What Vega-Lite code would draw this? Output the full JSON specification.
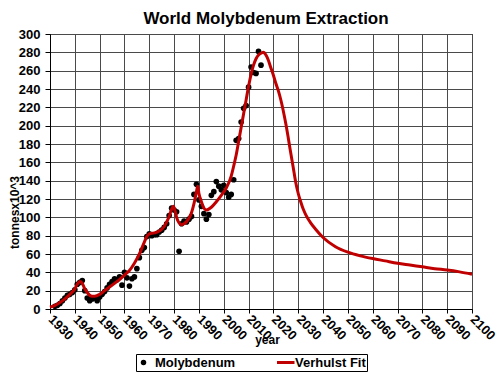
{
  "$schema": "https://vega.github.io/schema/vega-lite/v6.json",
  "autosize": {"type": "fit", "contains": "padding"},
  "width": 500,
  "height": 377,
  "padding": {"left": 8, "top": 10, "right": 3, "bottom": 32},
  "background": "white",
  "title": {"text": "World Molybdenum Extraction", "font": "Liberation Sans", "fontSize": 17, "fontWeight": "bold", "color": "black", "frame": "group", "offset": 0, "dx": 5},
  "datasets": {
    "obs": [
      {"year": 1932, "value": 3, "series": "Molybdenum"},
      {"year": 1933, "value": 4, "series": "Molybdenum"},
      {"year": 1934, "value": 6, "series": "Molybdenum"},
      {"year": 1935, "value": 9, "series": "Molybdenum"},
      {"year": 1936, "value": 12, "series": "Molybdenum"},
      {"year": 1937, "value": 15, "series": "Molybdenum"},
      {"year": 1938, "value": 16, "series": "Molybdenum"},
      {"year": 1939, "value": 18, "series": "Molybdenum"},
      {"year": 1940, "value": 21, "series": "Molybdenum"},
      {"year": 1941, "value": 27, "series": "Molybdenum"},
      {"year": 1942, "value": 29, "series": "Molybdenum"},
      {"year": 1943, "value": 31, "series": "Molybdenum"},
      {"year": 1944, "value": 20, "series": "Molybdenum"},
      {"year": 1945, "value": 12, "series": "Molybdenum"},
      {"year": 1946, "value": 9, "series": "Molybdenum"},
      {"year": 1947, "value": 11, "series": "Molybdenum"},
      {"year": 1948, "value": 12, "series": "Molybdenum"},
      {"year": 1949, "value": 9, "series": "Molybdenum"},
      {"year": 1950, "value": 13, "series": "Molybdenum"},
      {"year": 1951, "value": 16, "series": "Molybdenum"},
      {"year": 1952, "value": 19, "series": "Molybdenum"},
      {"year": 1953, "value": 23, "series": "Molybdenum"},
      {"year": 1954, "value": 27, "series": "Molybdenum"},
      {"year": 1955, "value": 30, "series": "Molybdenum"},
      {"year": 1956, "value": 33, "series": "Molybdenum"},
      {"year": 1957, "value": 32, "series": "Molybdenum"},
      {"year": 1958, "value": 35, "series": "Molybdenum"},
      {"year": 1959, "value": 26, "series": "Molybdenum"},
      {"year": 1960, "value": 40, "series": "Molybdenum"},
      {"year": 1961, "value": 34, "series": "Molybdenum"},
      {"year": 1962, "value": 25, "series": "Molybdenum"},
      {"year": 1963, "value": 33, "series": "Molybdenum"},
      {"year": 1964, "value": 35, "series": "Molybdenum"},
      {"year": 1965, "value": 44, "series": "Molybdenum"},
      {"year": 1966, "value": 56, "series": "Molybdenum"},
      {"year": 1967, "value": 64, "series": "Molybdenum"},
      {"year": 1968, "value": 67, "series": "Molybdenum"},
      {"year": 1969, "value": 79, "series": "Molybdenum"},
      {"year": 1970, "value": 82, "series": "Molybdenum"},
      {"year": 1971, "value": 80, "series": "Molybdenum"},
      {"year": 1972, "value": 81, "series": "Molybdenum"},
      {"year": 1973, "value": 81, "series": "Molybdenum"},
      {"year": 1974, "value": 84, "series": "Molybdenum"},
      {"year": 1975, "value": 86, "series": "Molybdenum"},
      {"year": 1976, "value": 89, "series": "Molybdenum"},
      {"year": 1977, "value": 93, "series": "Molybdenum"},
      {"year": 1978, "value": 102, "series": "Molybdenum"},
      {"year": 1979, "value": 110, "series": "Molybdenum"},
      {"year": 1980, "value": 108, "series": "Molybdenum"},
      {"year": 1981, "value": 106, "series": "Molybdenum"},
      {"year": 1982, "value": 63, "series": "Molybdenum"},
      {"year": 1983, "value": 93, "series": "Molybdenum"},
      {"year": 1984, "value": 96, "series": "Molybdenum"},
      {"year": 1985, "value": 95, "series": "Molybdenum"},
      {"year": 1986, "value": 98, "series": "Molybdenum"},
      {"year": 1987, "value": 101, "series": "Molybdenum"},
      {"year": 1988, "value": 125, "series": "Molybdenum"},
      {"year": 1989, "value": 136, "series": "Molybdenum"},
      {"year": 1990, "value": 119, "series": "Molybdenum"},
      {"year": 1991, "value": 112, "series": "Molybdenum"},
      {"year": 1992, "value": 104, "series": "Molybdenum"},
      {"year": 1993, "value": 98, "series": "Molybdenum"},
      {"year": 1994, "value": 103, "series": "Molybdenum"},
      {"year": 1995, "value": 124, "series": "Molybdenum"},
      {"year": 1996, "value": 128, "series": "Molybdenum"},
      {"year": 1997, "value": 139, "series": "Molybdenum"},
      {"year": 1998, "value": 134, "series": "Molybdenum"},
      {"year": 1999, "value": 130, "series": "Molybdenum"},
      {"year": 2000, "value": 135, "series": "Molybdenum"},
      {"year": 2001, "value": 127, "series": "Molybdenum"},
      {"year": 2002, "value": 122, "series": "Molybdenum"},
      {"year": 2003, "value": 125, "series": "Molybdenum"},
      {"year": 2004, "value": 141, "series": "Molybdenum"},
      {"year": 2005, "value": 184, "series": "Molybdenum"},
      {"year": 2006, "value": 186, "series": "Molybdenum"},
      {"year": 2007, "value": 204, "series": "Molybdenum"},
      {"year": 2008, "value": 219, "series": "Molybdenum"},
      {"year": 2009, "value": 222, "series": "Molybdenum"},
      {"year": 2010, "value": 242, "series": "Molybdenum"},
      {"year": 2011, "value": 264, "series": "Molybdenum"},
      {"year": 2012, "value": 258, "series": "Molybdenum"},
      {"year": 2013, "value": 257, "series": "Molybdenum"},
      {"year": 2014, "value": 281, "series": "Molybdenum"},
      {"year": 2015, "value": 266, "series": "Molybdenum"}
    ],
    "fit": [
      {"year": 1930, "value": 2, "series": "Verhulst Fit"},
      {"year": 1932, "value": 4, "series": "Verhulst Fit"},
      {"year": 1934, "value": 7, "series": "Verhulst Fit"},
      {"year": 1936, "value": 11, "series": "Verhulst Fit"},
      {"year": 1938, "value": 16, "series": "Verhulst Fit"},
      {"year": 1940, "value": 22, "series": "Verhulst Fit"},
      {"year": 1941, "value": 27, "series": "Verhulst Fit"},
      {"year": 1942, "value": 30, "series": "Verhulst Fit"},
      {"year": 1943, "value": 28, "series": "Verhulst Fit"},
      {"year": 1944, "value": 22, "series": "Verhulst Fit"},
      {"year": 1945, "value": 18, "series": "Verhulst Fit"},
      {"year": 1946, "value": 15, "series": "Verhulst Fit"},
      {"year": 1947, "value": 14, "series": "Verhulst Fit"},
      {"year": 1948, "value": 14, "series": "Verhulst Fit"},
      {"year": 1950, "value": 16, "series": "Verhulst Fit"},
      {"year": 1952, "value": 20, "series": "Verhulst Fit"},
      {"year": 1954, "value": 24, "series": "Verhulst Fit"},
      {"year": 1956, "value": 28, "series": "Verhulst Fit"},
      {"year": 1958, "value": 32, "series": "Verhulst Fit"},
      {"year": 1960, "value": 37, "series": "Verhulst Fit"},
      {"year": 1962, "value": 42, "series": "Verhulst Fit"},
      {"year": 1964, "value": 50, "series": "Verhulst Fit"},
      {"year": 1966, "value": 60, "series": "Verhulst Fit"},
      {"year": 1968, "value": 73, "series": "Verhulst Fit"},
      {"year": 1969, "value": 79, "series": "Verhulst Fit"},
      {"year": 1970, "value": 82, "series": "Verhulst Fit"},
      {"year": 1972, "value": 83, "series": "Verhulst Fit"},
      {"year": 1974, "value": 85, "series": "Verhulst Fit"},
      {"year": 1976, "value": 90, "series": "Verhulst Fit"},
      {"year": 1977, "value": 95, "series": "Verhulst Fit"},
      {"year": 1978, "value": 101, "series": "Verhulst Fit"},
      {"year": 1979, "value": 109, "series": "Verhulst Fit"},
      {"year": 1979.7, "value": 112, "series": "Verhulst Fit"},
      {"year": 1980.5, "value": 106, "series": "Verhulst Fit"},
      {"year": 1981, "value": 100, "series": "Verhulst Fit"},
      {"year": 1982, "value": 94, "series": "Verhulst Fit"},
      {"year": 1983, "value": 92, "series": "Verhulst Fit"},
      {"year": 1984, "value": 93, "series": "Verhulst Fit"},
      {"year": 1986, "value": 99, "series": "Verhulst Fit"},
      {"year": 1987, "value": 105, "series": "Verhulst Fit"},
      {"year": 1988, "value": 115, "series": "Verhulst Fit"},
      {"year": 1989, "value": 128, "series": "Verhulst Fit"},
      {"year": 1989.5, "value": 134, "series": "Verhulst Fit"},
      {"year": 1990, "value": 126, "series": "Verhulst Fit"},
      {"year": 1991, "value": 117, "series": "Verhulst Fit"},
      {"year": 1992, "value": 110, "series": "Verhulst Fit"},
      {"year": 1993, "value": 108, "series": "Verhulst Fit"},
      {"year": 1995, "value": 111, "series": "Verhulst Fit"},
      {"year": 1997, "value": 117, "series": "Verhulst Fit"},
      {"year": 1999, "value": 124, "series": "Verhulst Fit"},
      {"year": 2001, "value": 132, "series": "Verhulst Fit"},
      {"year": 2003, "value": 145, "series": "Verhulst Fit"},
      {"year": 2004, "value": 156, "series": "Verhulst Fit"},
      {"year": 2005, "value": 168, "series": "Verhulst Fit"},
      {"year": 2006, "value": 183, "series": "Verhulst Fit"},
      {"year": 2007, "value": 198, "series": "Verhulst Fit"},
      {"year": 2008, "value": 213, "series": "Verhulst Fit"},
      {"year": 2009, "value": 228, "series": "Verhulst Fit"},
      {"year": 2010, "value": 243, "series": "Verhulst Fit"},
      {"year": 2011, "value": 256, "series": "Verhulst Fit"},
      {"year": 2012, "value": 266, "series": "Verhulst Fit"},
      {"year": 2013, "value": 273, "series": "Verhulst Fit"},
      {"year": 2014, "value": 277, "series": "Verhulst Fit"},
      {"year": 2015, "value": 279, "series": "Verhulst Fit"},
      {"year": 2016, "value": 280, "series": "Verhulst Fit"},
      {"year": 2017, "value": 277, "series": "Verhulst Fit"},
      {"year": 2018, "value": 271, "series": "Verhulst Fit"},
      {"year": 2019, "value": 263, "series": "Verhulst Fit"},
      {"year": 2020, "value": 255, "series": "Verhulst Fit"},
      {"year": 2021, "value": 246, "series": "Verhulst Fit"},
      {"year": 2022, "value": 238, "series": "Verhulst Fit"},
      {"year": 2023, "value": 228, "series": "Verhulst Fit"},
      {"year": 2025, "value": 202, "series": "Verhulst Fit"},
      {"year": 2027, "value": 170, "series": "Verhulst Fit"},
      {"year": 2028, "value": 154, "series": "Verhulst Fit"},
      {"year": 2029, "value": 138, "series": "Verhulst Fit"},
      {"year": 2030, "value": 126, "series": "Verhulst Fit"},
      {"year": 2031, "value": 117, "series": "Verhulst Fit"},
      {"year": 2032, "value": 109, "series": "Verhulst Fit"},
      {"year": 2033, "value": 103, "series": "Verhulst Fit"},
      {"year": 2035, "value": 94, "series": "Verhulst Fit"},
      {"year": 2037, "value": 87, "series": "Verhulst Fit"},
      {"year": 2040, "value": 78, "series": "Verhulst Fit"},
      {"year": 2045, "value": 68, "series": "Verhulst Fit"},
      {"year": 2050, "value": 62, "series": "Verhulst Fit"},
      {"year": 2055, "value": 58, "series": "Verhulst Fit"},
      {"year": 2060, "value": 55, "series": "Verhulst Fit"},
      {"year": 2065, "value": 52.5, "series": "Verhulst Fit"},
      {"year": 2070, "value": 50, "series": "Verhulst Fit"},
      {"year": 2075, "value": 48, "series": "Verhulst Fit"},
      {"year": 2080, "value": 46, "series": "Verhulst Fit"},
      {"year": 2085, "value": 44, "series": "Verhulst Fit"},
      {"year": 2090, "value": 42.5, "series": "Verhulst Fit"},
      {"year": 2095, "value": 40.5, "series": "Verhulst Fit"},
      {"year": 2100, "value": 38, "series": "Verhulst Fit"}
    ]
  },
  "encoding": {
    "x": {
      "field": "year", "type": "quantitative",
      "scale": {"domain": [1930, 2100], "nice": false, "zero": false},
      "axis": {
        "values": [1930, 1940, 1950, 1960, 1970, 1980, 1990, 2000, 2010, 2020, 2030, 2040, 2050, 2060, 2070, 2080, 2090, 2100],
        "grid": true, "gridColor": "#4a4a4a", "gridOpacity": 1, "gridWidth": 1,
        "format": "d", "labelAngle": 45, "labelAlign": "left", "labelBaseline": "middle",
        "labelPadding": 4, "tickSize": 4, "labelFlush": false, "labelOverlap": false,
        "title": "year", "titleX": 217, "titleY": 34, "titleAlign": "center", "titleBaseline": "alphabetic"
      }
    },
    "y": {
      "field": "value", "type": "quantitative",
      "scale": {"domain": [0, 300], "nice": false},
      "axis": {
        "values": [0, 20, 40, 60, 80, 100, 120, 140, 160, 180, 200, 220, 240, 260, 280, 300],
        "grid": true, "gridColor": "#4a4a4a", "gridOpacity": 1, "gridWidth": 1,
        "tickSize": 5, "labelPadding": 5,
        "title": "tonnesx10^3", "titleX": -32, "titleY": 178, "titleAngle": -90, "titleAlign": "center", "titleBaseline": "alphabetic"
      }
    },
    "color": {
      "field": "series", "type": "nominal",
      "scale": {"domain": ["Molybdenum", "Verhulst Fit"], "range": ["black", "#c00000"]},
      "legend": {
        "orient": "none", "legendX": 86, "legendY": 320, "direction": "horizontal",
        "title": null,
        "strokeColor": "black",
        "fillColor": "white",
        "padding": 1,
        "symbolSize": 484,
        "clipHeight": 15,
        "labelOffset": 5,
        "columnPadding": 41,
        "encode": {
          "symbols": {"update": {
            "shape": {"signal": "datum.value === 'Verhulst Fit' ? 'stroke' : 'circle'"},
            "size": {"signal": "datum.value === 'Verhulst Fit' ? 484 : 30"},
            "stroke": {"signal": "datum.value === 'Verhulst Fit' ? '#c00000' : 'black'"},
            "strokeWidth": {"signal": "datum.value === 'Verhulst Fit' ? 3 : 0"},
            "fill": {"signal": "datum.value === 'Verhulst Fit' ? 'transparent' : 'black'"}
          }},
          "legend": {"update": {
            "stroke": {"value": "black"},
            "strokeWidth": {"value": 1},
            "fill": {"value": "white"}
          }}
        }
      }
    }
  },
  "layer": [
    {
      "data": {"name": "obs"},
      "mark": {"type": "point", "filled": true, "size": 32, "opacity": 1}
    },
    {
      "data": {"name": "fit"},
      "mark": {"type": "line", "strokeWidth": 3, "interpolate": "monotone"}
    }
  ],
  "config": {
    "font": "Liberation Sans",
    "view": {"stroke": "black", "strokeWidth": 1},
    "axis": {
      "labelFont": "Liberation Sans", "labelFontSize": 13, "labelFontWeight": "bold", "labelColor": "black",
      "titleFont": "Liberation Sans", "titleFontSize": 12, "titleFontWeight": "bold", "titleColor": "black",
      "domainColor": "black", "tickColor": "black"
    },
    "legend": {
      "labelFont": "Liberation Sans", "labelFontSize": 13, "labelFontWeight": "bold", "labelColor": "black"
    }
  }
}
